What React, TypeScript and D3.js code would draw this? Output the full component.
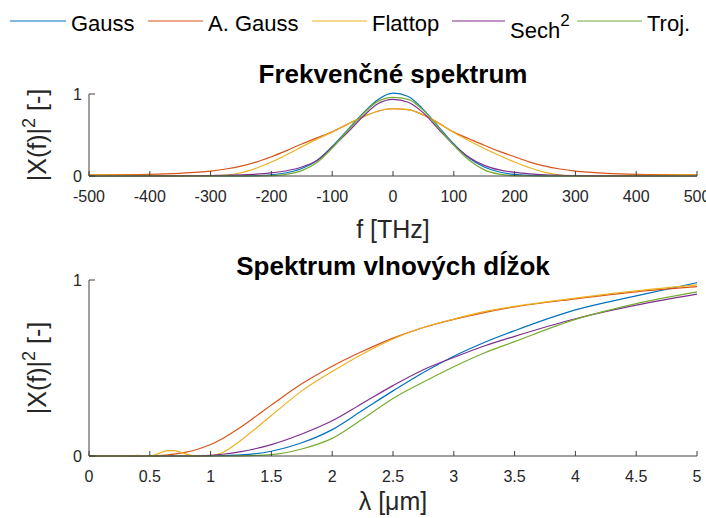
import React from "react";
import * as d3 from "d3";

// legend / series names and MATLAB default colours
const SERIES = ["Gauss", "A. Gauss", "Flattop", "Sech", "Troj."];
const COLORS = ["#0072BD", "#D95319", "#EDB120", "#7E2F8E", "#77AC30"];

// top panel: frequency spectrum
const FREQ = [-500, -450, -400, -350, -300, -275, -250, -225, -200, -175, -150, -125, -100, -75, -50, -25, 0,
  25, 50, 75, 100, 125, 150, 175, 200, 225, 250, 275, 300, 350, 400, 450, 500];
const gaussF = [0, 0, 0, 0, 0, 0.0005, 0.002, 0.005, 0.015, 0.04, 0.092, 0.19, 0.36, 0.56, 0.76, 0.93, 1.01,
  0.97, 0.81, 0.6, 0.39, 0.22, 0.11, 0.049, 0.019, 0.007, 0.002, 0.0005, 0, 0, 0, 0, 0];
const aGaussF = [0.015, 0.016, 0.02, 0.033, 0.06, 0.085, 0.12, 0.17, 0.235, 0.31, 0.39, 0.465, 0.54, 0.63, 0.72, 0.79, 0.82,
  0.81, 0.745, 0.645, 0.535, 0.455, 0.375, 0.3, 0.235, 0.17, 0.12, 0.085, 0.06, 0.033, 0.02, 0.016, 0.015];
const flattopF = [0.012, 0.01, 0.007, 0.002, 0, 0.01, 0.04, 0.095, 0.17, 0.26, 0.355, 0.45, 0.535, 0.63, 0.72, 0.79, 0.82,
  0.81, 0.745, 0.645, 0.53, 0.43, 0.335, 0.25, 0.17, 0.1, 0.045, 0.012, 0, 0.002, 0.007, 0.01, 0.012];
const sechF = [0, 0, 0.001, 0.003, 0.006, 0.009, 0.014, 0.022, 0.038, 0.064, 0.11, 0.19, 0.35, 0.53, 0.72, 0.88, 0.935,
  0.9, 0.77, 0.57, 0.38, 0.23, 0.13, 0.075, 0.044, 0.026, 0.015, 0.009, 0.005, 0.002, 0.001, 0, 0];
const trojF = [0, 0, 0, 0, 0, 0, 0, 0, 0.004, 0.02, 0.065, 0.165, 0.34, 0.55, 0.75, 0.91, 0.96,
  0.935, 0.8, 0.59, 0.375, 0.195, 0.075, 0.022, 0.004, 0, 0, 0, 0, 0, 0, 0, 0];
const FREQ_TICKS = [-500, -400, -300, -200, -100, 0, 100, 200, 300, 400, 500];

// bottom panel: wavelength spectrum
const LAMBDA = [0, 0.3, 0.35, 0.4, 0.45, 0.5, 0.55, 0.6, 0.65, 0.7, 0.75, 0.8, 0.85, 0.9, 1.0, 1.1, 1.25,
  1.5, 1.75, 2, 2.25, 2.5, 2.75, 3, 3.25, 3.5, 4, 4.5, 5];
const gaussL = [0, 0, 0, 0, 0, 0, 0, 0, 0, 0, 0, 0, 0, 0, 0.001, 0.002, 0.006,
  0.027, 0.075, 0.15, 0.26, 0.37, 0.475, 0.567, 0.645, 0.712, 0.83, 0.91, 0.985];
const aGaussL = [0, 0, 0, 0, 0, 0, 0.002, 0.004, 0.007, 0.011, 0.016, 0.022, 0.03, 0.04, 0.065, 0.1, 0.165,
  0.29, 0.41, 0.51, 0.595, 0.67, 0.73, 0.776, 0.815, 0.847, 0.893, 0.933, 0.962];
const flattopL = [0, 0, 0.002, 0.004, 0.002, 0, 0.008, 0.022, 0.03, 0.03, 0.022, 0.011, 0.003, 0, 0.002, 0.02, 0.09,
  0.23, 0.37, 0.48, 0.58, 0.665, 0.73, 0.778, 0.82, 0.85, 0.897, 0.938, 0.972];
const sechL = [0, 0, 0, 0, 0, 0, 0, 0, 0, 0, 0, 0, 0, 0.001, 0.004, 0.01, 0.025,
  0.065, 0.125, 0.2, 0.3, 0.4, 0.49, 0.56, 0.625, 0.68, 0.78, 0.857, 0.92];
const trojL = [0, 0, 0, 0, 0, 0, 0, 0, 0, 0, 0, 0, 0, 0, 0, 0, 0.001,
  0.008, 0.04, 0.1, 0.21, 0.327, 0.42, 0.507, 0.585, 0.65, 0.776, 0.866, 0.933];
const LAMBDA_TICKS = [0, 0.5, 1, 1.5, 2, 2.5, 3, 3.5, 4, 4.5, 5];

const Y_TICKS = [0, 1];

const FONT = '"Liberation Sans", Arial, Helvetica, sans-serif';
const AXIS = "#404040";
const LEFT = 89, RIGHT = 697;

// legend item x positions (line start, text start)
const LEGEND_POS = [[10, 71], [148, 208], [312, 372], [452, 510], [577, 647]];

function Panel(props: any) {
  const { top, bottom, xs, ys, xTicks, xDomain, title, xlabel, titleY, xlabelY } = props;
  const x = d3.scaleLinear().domain(xDomain).range([LEFT, RIGHT]);
  const y = d3.scaleLinear().domain([0, 1]).range([bottom, top]);
  const line = d3.line<[number, number]>()
    .x(d => x(d[0]))
    .y(d => y(d[1]))
    .curve(d3.curveMonotoneX);
  const cy = (top + bottom) / 2;

  return (
    <g>
      <text x={(LEFT + RIGHT) / 2} y={titleY} textAnchor="middle" fontSize={26} fontWeight="bold" fill="#000">{title}</text>
      {ys.map((vals: number[], i: number) => (
        <path key={i} d={line(xs.map((v: number, j: number) => [v, vals[j]]) as any) || ""}
          fill="none" stroke={COLORS[i]} strokeWidth={1.2} />
      ))}
      <line x1={LEFT} x2={RIGHT} y1={bottom} y2={bottom} stroke={AXIS} strokeWidth={1} />
      <line x1={LEFT} x2={LEFT} y1={top} y2={bottom} stroke={AXIS} strokeWidth={1} />
      {xTicks.map((t: number) => (
        <g key={t}>
          <line x1={x(t)} x2={x(t)} y1={bottom} y2={bottom - 5} stroke={AXIS} />
          <text x={x(t)} y={bottom + 26} textAnchor="middle" fontSize={16} fill="#262626">{String(t)}</text>
        </g>
      ))}
      {Y_TICKS.map(t => (
        <g key={t}>
          <line x1={LEFT} x2={LEFT + 6} y1={y(t)} y2={y(t)} stroke={AXIS} />
          <text x={LEFT - 7} y={y(t)} dy="0.36em" textAnchor="end" fontSize={16} fill="#262626">{t}</text>
        </g>
      ))}
      <text x={(LEFT + RIGHT) / 2} y={xlabelY} textAnchor="middle" fontSize={25} fill="#262626">{xlabel}</text>
      <text transform={`translate(46,${cy}) rotate(-90)`} textAnchor="middle" fontSize={25} fill="#262626">
        |X(f)|<tspan fontSize={18} dy={-11}>2</tspan><tspan dy={11}> [-]</tspan>
      </text>
    </g>
  );
}

export default function App() {
  return (
    <svg width={706} height={518} style={{ position: "absolute", left: 0, top: 0, background: "#fff" }}
      fontFamily={FONT}>
      <rect width={706} height={518} fill="#fff" />
      {SERIES.map((name, i) => {
        const [lx, tx] = LEGEND_POS[i];
        return (
          <g key={name}>
            <line x1={lx} x2={tx - 5} y1={21} y2={21} stroke={COLORS[i]} strokeWidth={1.2} />
            {name === "Sech" ? (
              <text x={tx} y={38} fontSize={22} fill="#000">Sech<tspan fontSize={17} dy={-12}>2</tspan></text>
            ) : (
              <text x={tx} y={31} fontSize={22} fill="#000">{name}</text>
            )}
          </g>
        );
      })}
      <Panel top={94} bottom={176} xs={FREQ} ys={[gaussF, aGaussF, flattopF, sechF, trojF]}
        xTicks={FREQ_TICKS} xDomain={[-500, 500]} title="Frekvenčné spektrum" xlabel="f [THz]"
        titleY={83} xlabelY={238} />
      <Panel top={280} bottom={456} xs={LAMBDA} ys={[gaussL, aGaussL, flattopL, sechL, trojL]}
        xTicks={LAMBDA_TICKS} xDomain={[0, 5]} title="Spektrum vlnových dĺžok" xlabel="λ [μm]"
        titleY={275} xlabelY={510} />
    </svg>
  );
}
